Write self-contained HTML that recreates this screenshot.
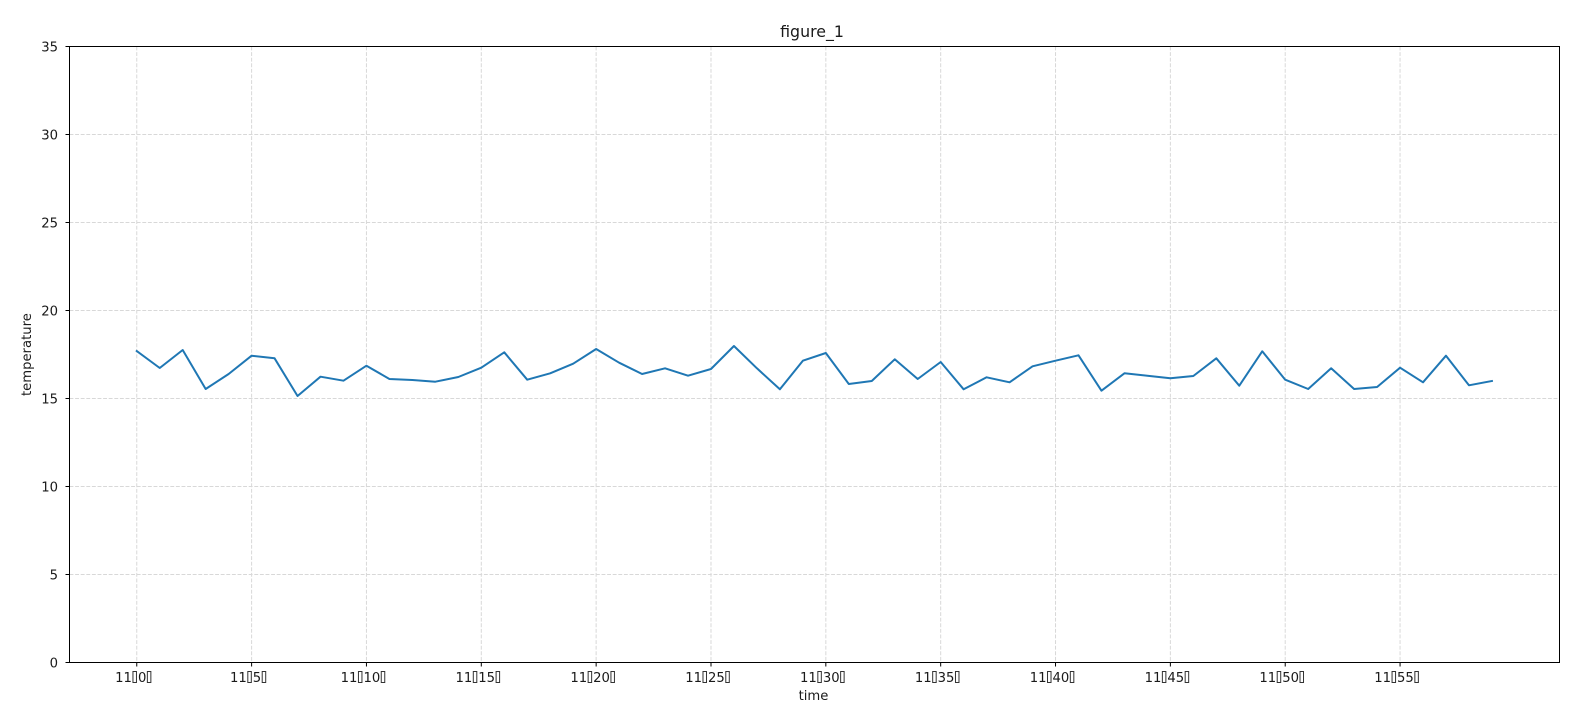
<!DOCTYPE html>
<html>
<head>
<meta charset="utf-8">
<style>
  html, body { margin:0; padding:0; background:#ffffff; }
  body { width:1576px; height:710px; overflow:hidden; }
  svg { display:block; }
  text { font-family: "DejaVu Sans", "Liberation Sans", sans-serif; fill:#1a1a1a; }
  .tk { font-size:13.2px; }
</style>
</head>
<body>
<svg width="1576" height="710" viewBox="0 0 1576 710" xmlns="http://www.w3.org/2000/svg">
  <rect x="0" y="0" width="1576" height="710" fill="#ffffff"/>

  <!-- grid -->
  <g stroke="#d8d8d8" stroke-width="1" stroke-dasharray="3.9 1.7" fill="none">
    <line x1="136.76" y1="46.5" x2="136.76" y2="662.5"/>
    <line x1="251.61" y1="46.5" x2="251.61" y2="662.5"/>
    <line x1="366.45" y1="46.5" x2="366.45" y2="662.5"/>
    <line x1="481.30" y1="46.5" x2="481.30" y2="662.5"/>
    <line x1="596.14" y1="46.5" x2="596.14" y2="662.5"/>
    <line x1="710.99" y1="46.5" x2="710.99" y2="662.5"/>
    <line x1="825.83" y1="46.5" x2="825.83" y2="662.5"/>
    <line x1="940.68" y1="46.5" x2="940.68" y2="662.5"/>
    <line x1="1055.52" y1="46.5" x2="1055.52" y2="662.5"/>
    <line x1="1170.37" y1="46.5" x2="1170.37" y2="662.5"/>
    <line x1="1285.21" y1="46.5" x2="1285.21" y2="662.5"/>
    <line x1="1400.06" y1="46.5" x2="1400.06" y2="662.5"/>

    <line x1="69.5" y1="574.5" x2="1559.5" y2="574.5"/>
    <line x1="69.5" y1="486.5" x2="1559.5" y2="486.5"/>
    <line x1="69.5" y1="398.5" x2="1559.5" y2="398.5"/>
    <line x1="69.5" y1="310.5" x2="1559.5" y2="310.5"/>
    <line x1="69.5" y1="222.5" x2="1559.5" y2="222.5"/>
    <line x1="69.5" y1="134.5" x2="1559.5" y2="134.5"/>
  </g>

  <!-- data line -->
  <polyline fill="none" stroke="#1f77b4" stroke-width="2" stroke-linejoin="round" stroke-linecap="square"
    points="136.76,351 159.73,368 182.70,350 205.67,389 228.64,374 251.61,355.7 274.57,358.3 297.54,396 320.51,376.7 343.48,380.7 366.45,365.7 389.42,379 412.39,380 435.36,381.7 458.33,377 481.30,367.7 504.26,352.3 527.23,379.7 550.20,373.3 573.17,363.7 596.14,349 619.11,362.7 642.08,374 665.05,368.3 688.02,375.7 710.99,369 733.95,346 756.92,368.3 779.89,389.3 802.86,360.7 825.83,353 848.80,384 871.77,381 894.74,359.3 917.71,379 940.68,362 963.64,389.3 986.61,377.3 1009.58,382.3 1032.55,366.3 1055.52,360.7 1078.49,355.3 1101.46,390.7 1124.43,373.3 1147.40,375.7 1170.37,378.3 1193.33,376 1216.30,358.3 1239.27,385.7 1262.24,351.3 1285.21,379.7 1308.18,389 1331.15,368.3 1354.12,389 1377.09,387 1400.06,367.7 1423.02,382.3 1445.99,355.7 1468.96,385.3 1491.93,381"/>

  <!-- spines -->
  <rect x="69.5" y="46.5" width="1490" height="616" fill="none" stroke="#000" stroke-width="1"/>

  <!-- y ticks -->
  <g stroke="#000" stroke-width="1">
    <line x1="65.5" y1="662.5" x2="69.5" y2="662.5"/>
    <line x1="65.5" y1="574.5" x2="69.5" y2="574.5"/>
    <line x1="65.5" y1="486.5" x2="69.5" y2="486.5"/>
    <line x1="65.5" y1="398.5" x2="69.5" y2="398.5"/>
    <line x1="65.5" y1="310.5" x2="69.5" y2="310.5"/>
    <line x1="65.5" y1="222.5" x2="69.5" y2="222.5"/>
    <line x1="65.5" y1="134.5" x2="69.5" y2="134.5"/>
    <line x1="65.5" y1="46.5" x2="69.5" y2="46.5"/>
  </g>
  <g class="tk" text-anchor="end">
    <text x="58" y="667.3">0</text>
    <text x="58" y="579.3">5</text>
    <text x="58" y="491.3">10</text>
    <text x="58" y="403.3">15</text>
    <text x="58" y="315.3">20</text>
    <text x="58" y="227.3">25</text>
    <text x="58" y="139.3">30</text>
    <text x="58" y="51.3">35</text>
  </g>

  <!-- x ticks -->
  <g stroke="#000" stroke-width="1">
    <line x1="136.76" y1="662.5" x2="136.76" y2="666.5"/>
    <line x1="251.61" y1="662.5" x2="251.61" y2="666.5"/>
    <line x1="366.45" y1="662.5" x2="366.45" y2="666.5"/>
    <line x1="481.30" y1="662.5" x2="481.30" y2="666.5"/>
    <line x1="596.14" y1="662.5" x2="596.14" y2="666.5"/>
    <line x1="710.99" y1="662.5" x2="710.99" y2="666.5"/>
    <line x1="825.83" y1="662.5" x2="825.83" y2="666.5"/>
    <line x1="940.68" y1="662.5" x2="940.68" y2="666.5"/>
    <line x1="1055.52" y1="662.5" x2="1055.52" y2="666.5"/>
    <line x1="1170.37" y1="662.5" x2="1170.37" y2="666.5"/>
    <line x1="1285.21" y1="662.5" x2="1285.21" y2="666.5"/>
    <line x1="1400.06" y1="662.5" x2="1400.06" y2="666.5"/>
  </g>

  <!-- x tick labels: "11" [box] minutes [box] -->
  <g class="tk">
    <!-- m=0, s = cx-21.6 = 115.16 -->
    <text x="115.16" y="682">11</text><text x="137.96" y="682">0</text>
    <!-- m=5 s=230.01 -->
    <text x="230.01" y="682">11</text><text x="252.81" y="682">5</text>
    <!-- 2-digit: s = cx-25.8 -->
    <text x="340.65" y="682">11</text><text x="363.45" y="682">10</text>
    <text x="455.50" y="682">11</text><text x="478.30" y="682">15</text>
    <text x="570.34" y="682">11</text><text x="593.14" y="682">20</text>
    <text x="685.19" y="682">11</text><text x="707.99" y="682">25</text>
    <text x="800.03" y="682">11</text><text x="822.83" y="682">30</text>
    <text x="914.88" y="682">11</text><text x="937.68" y="682">35</text>
    <text x="1029.72" y="682">11</text><text x="1052.52" y="682">40</text>
    <text x="1144.57" y="682">11</text><text x="1167.37" y="682">45</text>
    <text x="1259.41" y="682">11</text><text x="1282.21" y="682">50</text>
    <text x="1374.26" y="682">11</text><text x="1397.06" y="682">55</text>
  </g>
  <g fill="none" stroke="#333" stroke-width="1">
    <!-- box1 at s+17.8, box2 at s+22.8+n*8.4+1 -->
    <rect x="132.96" y="671.5" width="3.5" height="11"/><rect x="147.36" y="671.5" width="3.5" height="11"/>
    <rect x="247.81" y="671.5" width="3.5" height="11"/><rect x="262.21" y="671.5" width="3.5" height="11"/>
    <rect x="358.45" y="671.5" width="3.5" height="11"/><rect x="381.25" y="671.5" width="3.5" height="11"/>
    <rect x="473.30" y="671.5" width="3.5" height="11"/><rect x="496.10" y="671.5" width="3.5" height="11"/>
    <rect x="588.14" y="671.5" width="3.5" height="11"/><rect x="610.94" y="671.5" width="3.5" height="11"/>
    <rect x="702.99" y="671.5" width="3.5" height="11"/><rect x="725.79" y="671.5" width="3.5" height="11"/>
    <rect x="817.83" y="671.5" width="3.5" height="11"/><rect x="840.63" y="671.5" width="3.5" height="11"/>
    <rect x="932.68" y="671.5" width="3.5" height="11"/><rect x="955.48" y="671.5" width="3.5" height="11"/>
    <rect x="1047.52" y="671.5" width="3.5" height="11"/><rect x="1070.32" y="671.5" width="3.5" height="11"/>
    <rect x="1162.37" y="671.5" width="3.5" height="11"/><rect x="1185.17" y="671.5" width="3.5" height="11"/>
    <rect x="1277.21" y="671.5" width="3.5" height="11"/><rect x="1300.01" y="671.5" width="3.5" height="11"/>
    <rect x="1392.06" y="671.5" width="3.5" height="11"/><rect x="1414.86" y="671.5" width="3.5" height="11"/>
  </g>

  <!-- axis labels -->
  <text class="tk" x="813.5" y="700" text-anchor="middle">time</text>
  <text class="tk" x="0" y="0" text-anchor="middle" transform="translate(30.8,354.6) rotate(-90)">temperature</text>

  <!-- title -->
  <text x="812" y="37" text-anchor="middle" style="font-size:15.8px;">figure_1</text>
</svg>
</body>
</html>
